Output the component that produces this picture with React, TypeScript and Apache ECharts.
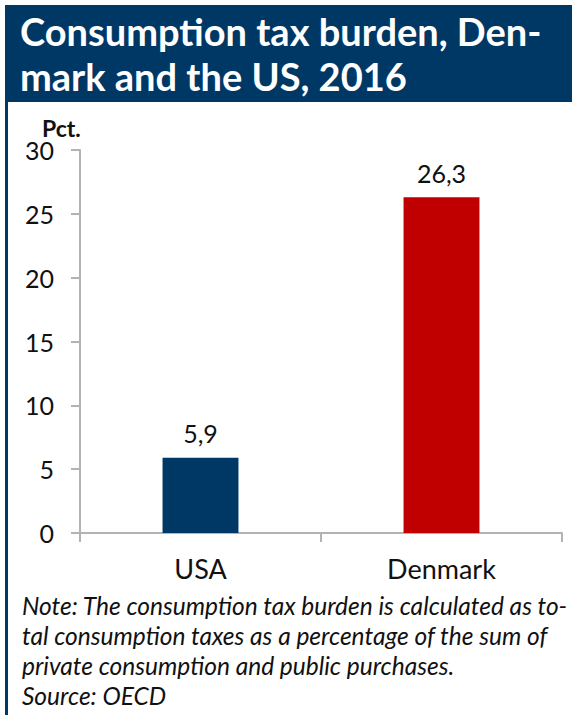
import React, { useEffect, useRef } from "react";
import * as echarts from "echarts";

const titleLines = ["Consumption tax burden, Den-", "mark and the US, 2016"];
const categories = ["USA", "Denmark"];
const values = [5.9, 26.3];
const barColors = ["#003865", "#C00000"];
const yTicks = { min: 0, max: 30, interval: 5 };
const unitLabel = "Pct.";
const noteLines = [
  "Note: The consumption tax burden is calculated as to-",
  "tal consumption taxes as a percentage of the sum of",
  "private consumption and public purchases.",
  "Source: OECD",
];

const NAVY = "#003865";
const FONT = "Lato";

export default function App() {
  const ref = useRef<HTMLDivElement>(null);
  useEffect(() => {
    if (!ref.current) return;
    const chart = echarts.init(ref.current, null, { renderer: "svg" });
    chart.setOption({
      animation: false,
      backgroundColor: "#ffffff",
      grid: { left: 80, right: 13, top: 150, bottom: 182, containLabel: false },
      xAxis: {
        type: "category",
        data: categories,
        axisLine: { show: true, lineStyle: { color: "#b3b3b3", width: 2 } },
        axisTick: { show: true, length: 9, lineStyle: { color: "#b3b3b3", width: 2 } },
        axisLabel: { fontFamily: FONT, fontSize: 27, color: "#111", margin: 22 },
      },
      yAxis: {
        type: "value",
        min: yTicks.min,
        max: yTicks.max,
        interval: yTicks.interval,
        axisLine: { show: true, lineStyle: { color: "#b3b3b3", width: 2 } },
        axisTick: { show: true, length: 9, lineStyle: { color: "#b3b3b3", width: 2 } },
        splitLine: { show: false },
        axisLabel: { fontFamily: FONT, fontSize: 25, color: "#111", margin: 26 },
      },
      series: [
        {
          type: "bar",
          barWidth: "31.5%",
          data: values.map((v, i) => ({ value: v, itemStyle: { color: barColors[i] } })),
          label: {
            show: true,
            position: "top",
            distance: 12,
            fontFamily: FONT,
            fontSize: 25,
            color: "#111",
            formatter: (p: any) => String(p.value).replace(".", ","),
          },
        },
      ],
      graphic: [
        { type: "rect", shape: { x: 5, y: 5, width: 567, height: 97 }, style: { fill: NAVY } },
        { type: "rect", shape: { x: 5, y: 5, width: 3, height: 710 }, style: { fill: NAVY } },
        ...titleLines.map((t, i) => ({
          type: "text",
          x: 20,
          y: 12 + i * 45,
          style: {
            text: t,
            fill: "#ffffff",
            font: `bold 38px ${FONT}`,
          },
        })),
        {
          type: "text",
          x: 42,
          y: 116,
          style: { text: unitLabel, fill: "#111", font: `bold 23px ${FONT}` },
        },
        {
          type: "text",
          x: 22,
          y: 590,
          style: {
            text: noteLines.join("\n"),
            fill: "#111",
            font: `italic 24.5px ${FONT}`,
            lineHeight: 30,
          },
        },
      ],
    });
    return () => chart.dispose();
  }, []);
  return (
    <div
      ref={ref}
      style={{ position: "absolute", left: 0, top: 0, width: 575, height: 715 }}
    />
  );
}
